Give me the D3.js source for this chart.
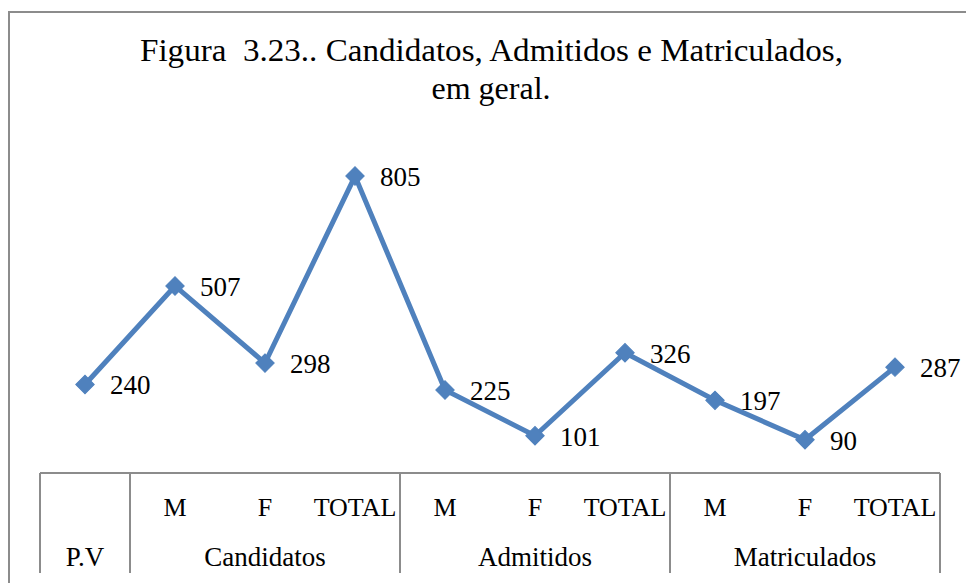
<!DOCTYPE html>
<html>
<head>
<meta charset="utf-8">
<script src="https://cdn.jsdelivr.net/npm/d3@7"></script>
<style>
  html, body { margin: 0; padding: 0; background: #fff; }
  svg { display: block; }
  text { font-family: "Liberation Serif", "Times New Roman", serif; fill: #000; white-space: pre; }
</style>
</head>
<body>
<svg id="chart" width="966" height="583"></svg>
<script>
// ---- data ----
const titleLines = ["Figura  3.23.. Candidatos, Admitidos e Matriculados,", "em geral."];
const subLabels = ["", "M", "F", "TOTAL", "M", "F", "TOTAL", "M", "F", "TOTAL"];
const groupLabels = ["P.V", "Candidatos", "Admitidos", "Matriculados"];
const groupSpans = [1, 3, 3, 3];
const values = [240, 507, 298, 805, 225, 101, 326, 197, 90, 287];
const yDomain = [0, 900];

// ---- layout ----
const svg = d3.select("#chart");
const plotLeft = 40, plotRight = 940, plotTop = 141, plotBottom = 473;
const tableBottom = 573;
const lineColor = "#4F81BD";
const gridColor = "#8c8c8c";

const x = d3.scaleBand().domain(d3.range(values.length)).range([plotLeft, plotRight]).padding(0);
const y = d3.scaleLinear().domain(yDomain).range([plotBottom, plotTop]);
const cx = i => x(i) + x.bandwidth() / 2;

// outer chart border (extends past right / bottom edge)
svg.append("rect")
  .attr("x", 9).attr("y", 12)
  .attr("width", 1000).attr("height", 1000)
  .attr("fill", "none").attr("stroke", gridColor).attr("stroke-width", 2);

// title
svg.append("text")
  .attr("x", 491.5).attr("y", 61)
  .attr("text-anchor", "middle")
  .attr("font-size", 32)
  .attr("xml:space", "preserve")
  .attr("textLength", 703).attr("lengthAdjust", "spacingAndGlyphs")
  .text(titleLines[0]);
svg.append("text")
  .attr("x", 491).attr("y", 99)
  .attr("text-anchor", "middle")
  .attr("font-size", 32)
  .text(titleLines[1]);

// table lines (category axis)
svg.append("line")
  .attr("x1", plotLeft).attr("x2", plotRight)
  .attr("y1", plotBottom).attr("y2", plotBottom)
  .attr("stroke", gridColor).attr("stroke-width", 2);

let acc = 0;
const boundaries = [0];
groupSpans.forEach(s => { acc += s; boundaries.push(acc); });
boundaries.forEach(b => {
  const bx = b < values.length ? x(b) : plotRight;
  svg.append("line")
    .attr("x1", bx).attr("x2", bx)
    .attr("y1", plotBottom).attr("y2", tableBottom)
    .attr("stroke", gridColor).attr("stroke-width", 2);
});

// row 1: sub labels via d3 axis
const axisG = svg.append("g")
  .attr("transform", `translate(0,${plotBottom})`)
  .call(d3.axisBottom(x).tickSize(0).tickPadding(0).tickFormat(i => subLabels[i]));
axisG.select(".domain").remove();
axisG.selectAll("text")
  .attr("y", 43).attr("dy", 0)
  .attr("font-size", 26)
  .style("font-family", '"Liberation Serif", serif')
  .attr("fill", "#000");

// row 2: group labels
groupLabels.forEach((g, k) => {
  const start = boundaries[k], end = boundaries[k + 1];
  const gx0 = x(start);
  const gx1 = end < values.length ? x(end) : plotRight;
  svg.append("text")
    .attr("x", (gx0 + gx1) / 2).attr("y", 566)
    .attr("text-anchor", "middle")
    .attr("font-size", 27)
    .text(g);
});

// line
const line = d3.line().x((d, i) => cx(i)).y(d => y(d));
svg.append("path")
  .datum(values)
  .attr("d", line)
  .attr("fill", "none")
  .attr("stroke", lineColor)
  .attr("stroke-width", 5)
  .attr("stroke-linejoin", "miter");

// markers (diamonds)
const diamond = d3.symbol().type(d3.symbolSquare).size(170);
svg.selectAll(".marker")
  .data(values)
  .join("path")
  .attr("class", "marker")
  .attr("d", diamond)
  .attr("transform", (d, i) => `translate(${cx(i)},${y(d)}) rotate(45)`)
  .attr("fill", lineColor)
  .attr("stroke", lineColor)
  .attr("stroke-width", 1);

// data labels
svg.selectAll(".dlabel")
  .data(values)
  .join("text")
  .attr("class", "dlabel")
  .attr("x", (d, i) => cx(i) + 25)
  .attr("y", d => y(d) + 10)
  .attr("font-size", 27)
  .text(d => d);
</script>
</body>
</html>
